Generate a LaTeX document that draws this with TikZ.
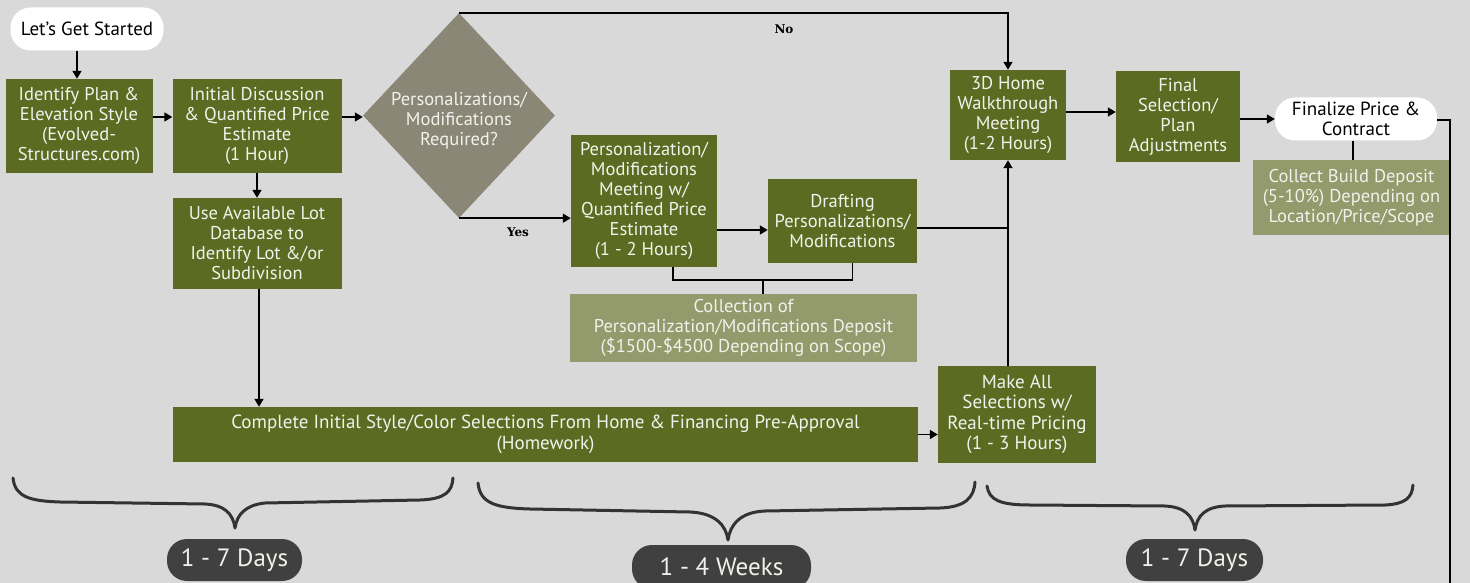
\documentclass[tikz,border=0pt]{standalone}
\usepackage{fontspec}
\setmainfont{PT Sans}
\newfontfamily\slabfont{DejaVu Serif}
\usetikzlibrary{arrows.meta,shapes.geometric,calc}
\definecolor{bg}{HTML}{D9D9D9}
\definecolor{dgreen}{HTML}{5C6B22}
\definecolor{lgreen}{HTML}{939A6B}
\definecolor{dgray}{HTML}{8A8777}
\definecolor{pillc}{HTML}{404040}
\definecolor{txtc}{HTML}{F2F2EC}
\definecolor{bracec}{HTML}{333333}
\tikzset{
  box/.style={fill=dgreen,text=txtc,align=center,inner sep=0pt,font=\fontsize{18.5}{20}\selectfont},
  lbox/.style={fill=lgreen,text=txtc,align=center,inner sep=0pt,font=\fontsize{18.5}{20}\selectfont},
  wpill/.style={fill=white,text=black,align=center,inner sep=0pt,rounded corners=20pt,font=\fontsize{19}{20}\selectfont},
  dpill/.style={fill=pillc,text=txtc,align=center,inner sep=0pt,rounded corners=20pt,font=\fontsize{25}{28}\selectfont},
  widebox/.style={box,font=\fontsize{19}{20.5}\selectfont},
  arr/.style={line width=1.5pt,-{Triangle[width=9pt,length=8pt]}},
  ln/.style={line width=1.5pt},
  lab/.style={font=\slabfont\bfseries\fontsize{12}{14}\selectfont,text=black,inner sep=0pt},
  brace/.style={line width=3pt,draw=bracec,line cap=round,line join=round},
}
\begin{document}
\begin{tikzpicture}[x=1pt,y=-1pt]
\fill[bg] (0,0) rectangle (1470,583);
\useasboundingbox (0,0) rectangle (1470,583);

% nodes
\node[wpill,minimum width=153pt,minimum height=43pt] (start) at (87,29) {Let\char"27 s Get Started};
\node[box,minimum width=147pt,minimum height=94pt] (idp) at (79,126) {Identify Plan \&\\Elevation Style\\(Evolved-\\Structures.com)};
\node[box,minimum width=169pt,minimum height=94pt] (ini) at (257,126) {Initial Discussion\\\& Quantified Price\\Estimate\\(1 Hour)};
\node[box,minimum width=169pt,minimum height=91pt] (lot) at (257,243.5) {Use Available Lot\\Database to\\Identify Lot \&/or\\Subdivision};
\node[diamond,fill=dgray,inner sep=0pt,minimum width=192pt,minimum height=205pt,
  label={[text=txtc,align=center,inner sep=0pt,font=\fontsize{18.5}{20}\selectfont,yshift=-5pt]center:Personalizations/\\Modifications\\Required?}] (dia) at (459,115.5) {};
\node[box,minimum width=146pt,minimum height=132pt] (pm) at (644,201) {Personalization/\\Modifications\\Meeting w/\\Quantified Price\\Estimate\\(1 - 2 Hours)};
\node[box,minimum width=149pt,minimum height=84pt] (dr) at (842.5,221) {Drafting\\Personalizations/\\Modifications};
\node[lbox,minimum width=347pt,minimum height=68pt] (dep) at (743.5,328) {Collection of\\Personalization/Modifications Deposit\\(\$1500-\$4500 Depending on Scope)};
\node[widebox,minimum width=745pt,minimum height=55pt] (cmp) at (545.5,434.5) {Complete Initial Style/Color Selections From Home \& Financing Pre-Approval\\(Homework)};
\node[widebox,minimum width=158pt,minimum height=97pt] (ma) at (1017,414.5) {Make All\\Selections w/\\Real-time Pricing\\(1 - 3 Hours)};
\node[box,minimum width=116pt,minimum height=90pt] (td) at (1008,115) {3D Home\\Walkthrough\\Meeting\\(1-2 Hours)};
\node[box,minimum width=124pt,minimum height=91pt] (fs) at (1178,116.5) {Final\\Selection/\\Plan\\Adjustments};
\node[wpill,minimum width=162pt,minimum height=43pt] (fp) at (1356,119) {Finalize Price \&\\Contract};
\node[lbox,minimum width=197pt,minimum height=75pt] (bd) at (1351.5,197.5) {Collect Build Deposit\\(5-10\%) Depending on\\Location/Price/Scope};

\node[dpill,minimum width=135pt,minimum height=42pt] (p1) at (234.5,560) {1 - 7 Days};
\node[dpill,minimum width=179pt,minimum height=44pt] (p2) at (721.5,567) {1 - 4 Weeks};
\node[dpill,minimum width=137pt,minimum height=42pt] (p3) at (1194.5,560) {1 - 7 Days};

\node[lab] (no) at (784,29) {No};
\node[lab] (yes) at (518,232) {Yes};

\coordinate (bot) at (1450,590);
\coordinate (brk) at (763,280);

% connectors
\draw[arr] ([xshift=-10pt]start.south) -- ([xshift=-2pt]idp.north);
\draw[arr] ([yshift=9pt]idp.east) -- ([yshift=9pt]ini.west);
\draw[arr] ([yshift=9pt]ini.east) -- ([yshift=9pt]ini.east -| dia.west);
\draw[arr] (ini.south) -- (lot.north);
\draw[arr] ([xshift=2pt]lot.south) -- ([xshift=2pt]lot.south |- cmp.north);
\draw[arr] (cmp.east) -- (cmp.east -| ma.west);
\draw[arr] (ma.north -| td.south) -- (td.south);
\draw[arr] (dia.north) -| (td.north);
\draw[arr] (dia.south) -- (dia.south -| pm.west);
\draw[arr] ([yshift=-29pt]pm.east) -- ([yshift=-29pt]pm.east -| dr.west);
\draw[ln] ([yshift=-7pt]dr.east) -- ([yshift=-7pt]dr.east -| td.south);
\draw[ln] ([xshift=29pt]pm.south) |- (brk) -| ([xshift=10pt]dr.south);
\draw[ln] (brk) -- (brk |- dep.north);
\draw[arr] ([yshift=3pt]td.east) -- ([yshift=3pt]td.east -| fs.west);
\draw[arr] (fs.east |- fp.west) -- (fp.west);
\draw[ln] ([xshift=-3pt]fp.south) -- ([xshift=-3pt]fp.south |- bd.north);
\draw[ln,line width=2.5pt] ([yshift=-1pt]fp.east) -| (bot);

% braces
\draw[brace] (13,478) .. controls (15,497) and (30,501) .. (60,502) -- (205,504) .. controls (225,505) and (233,514) .. (235,528) .. controls (237,514) and (246,505) .. (265,503) -- (420,500) .. controls (445,499) and (452,492) .. (453,478);
\draw[brace] (478,483) .. controls (480,503) and (495,508) .. (530,509) -- (690,512) .. controls (715,513) and (726,525) .. (728,540) .. controls (730,525) and (740,512) .. (765,511) -- (940,508) .. controls (965,507) and (974,498) .. (975,482);
\draw[brace] (987,486) .. controls (989,500) and (1000,505) .. (1030,505) -- (1165,506) .. controls (1185,507) and (1193,516) .. (1195,530) .. controls (1197,516) and (1205,507) .. (1225,506) -- (1385,505) .. controls (1405,504) and (1412,498) .. (1413,485);
\end{tikzpicture}
\end{document}
